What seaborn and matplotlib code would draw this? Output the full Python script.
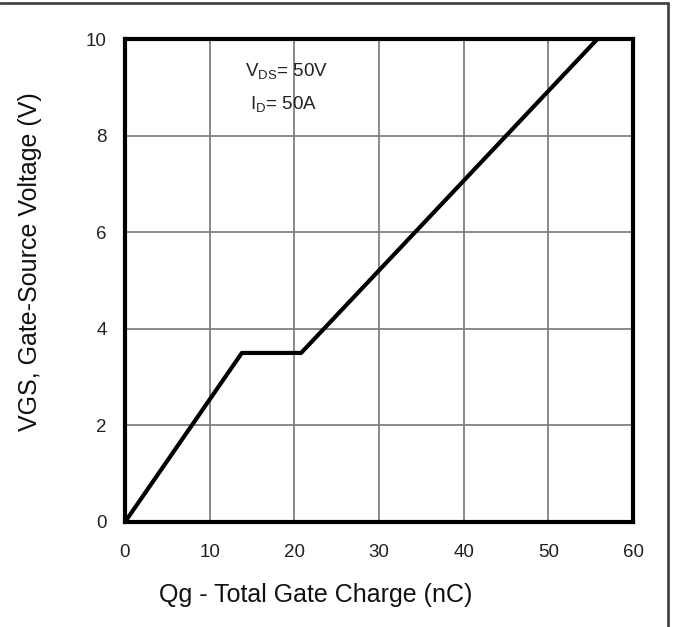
import matplotlib
matplotlib.use("Agg")
import matplotlib.pyplot as plt
import seaborn as sns
import pandas as pd
from matplotlib.lines import Line2D

# Data
qg_nc = [0, 13.8, 20.8, 55.8]
vgs_v = [0, 3.5, 3.5, 10.0]
x_ticks = [0, 10, 20, 30, 40, 50, 60]
y_ticks = [0, 2, 4, 6, 8, 10]

sns.set_theme(style="white")
plt.rcParams['font.family'] = ['Liberation Sans', 'DejaVu Sans']

fig = plt.figure(figsize=(6.76, 6.27), dpi=100)
ax = fig.add_axes([125/676, 1-522/627, (633-125)/676, (522-39)/627])

df = pd.DataFrame({"Qg": qg_nc, "VGS": vgs_v})
sns.lineplot(data=df, x="Qg", y="VGS", ax=ax, color="black", linewidth=3, sort=False, zorder=3)

ax.set_xlim(0, 60)
ax.set_ylim(0, 10)
ax.set_xticks(x_ticks)
ax.set_yticks(y_ticks)
ax.set_xticklabels([str(t) for t in x_ticks], fontsize=13.5, color="#222222")
ax.set_yticklabels([str(t) for t in y_ticks], fontsize=13.5, color="#222222")
ax.tick_params(axis="both", length=0)
ax.tick_params(axis="x", pad=15.5)
ax.tick_params(axis="y", pad=13)
ax.grid(True, color="#808080", linewidth=1.3)
for s in ax.spines.values():
    s.set_color("black")
    s.set_linewidth(3)
    s.set_zorder(4)

ax.set_xlabel("Qg - Total Gate Charge (nC)", fontsize=18, color="#111111")
ax.set_ylabel("VGS, Gate-Source Voltage (V)", fontsize=18, color="#111111")
ax.xaxis.set_label_coords((316-125)/508, (522-595)/483)
ax.yaxis.set_label_coords((30-125)/508, (522-262)/483)
ax.xaxis.label.set_va("center")
ax.yaxis.label.set_va("center")

ax.text((245-125)/508, (522-72)/483, r"V$_{\mathregular{DS}}$= 50V", transform=ax.transAxes, fontsize=13.5, ha="left", va="center", color="#222222")
ax.text((250-125)/508, (522-105)/483, r"I$_{\mathregular{D}}$= 50A", transform=ax.transAxes, fontsize=13.5, ha="left", va="center", color="#222222")

# frame lines of the surrounding document
fig.add_artist(Line2D([0, 668/676], [1-3/627, 1-3/627], transform=fig.transFigure, color="#444444", linewidth=2))
fig.add_artist(Line2D([668/676, 668/676], [0, 1-3/627], transform=fig.transFigure, color="#444444", linewidth=2))

fig.savefig("out.png", dpi=100)
